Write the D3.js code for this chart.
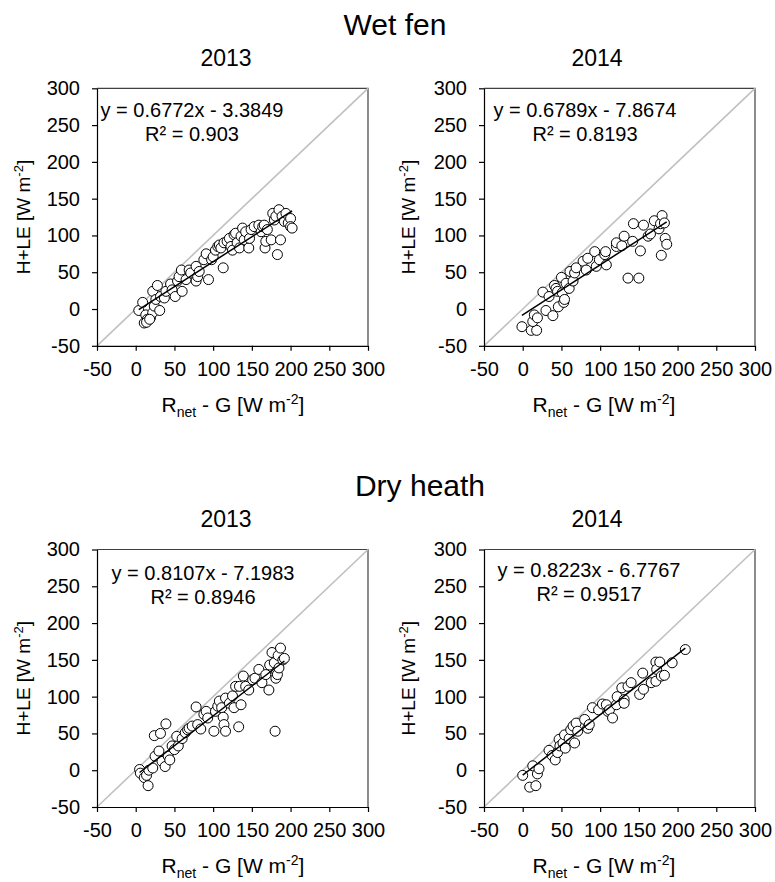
<!DOCTYPE html>
<html>
<head>
<meta charset="utf-8">
<script src="https://cdn.jsdelivr.net/npm/d3@7"></script>
<style>
  body { margin: 0; background: #fff; }
  text { font-family: "Liberation Sans", Arial, sans-serif; fill: #000; }
</style>
</head>
<body>
<svg id="chart" width="775" height="882"></svg>
<script>
// ---- data ----
const axisTicks = [-50, 0, 50, 100, 150, 200, 250, 300];

const siteNames = ["Wet fen", "Dry heath"];
const years = ["2013", "2014"];

// [Rnet - G, H + LE]
const wetFen2013 = [
  [4,-2],[9,9],[13,-8],[11,-19],[15,-14],[19,-12],[22,-5],[24,4],[22,24],[28,32],
  [31,-2],[26,13],[32,17],[37,15],[39,24],[45,34],[47,26],[51,17],[54,38],[56,44],
  [59,53],[60,24],[65,40],[69,53],[71,49],[78,58],[78,38],[80,44],[82,51],[88,67],
  [91,75],[94,40],[98,67],[100,71],[103,80],[106,85],[108,87],[110,83],[113,56],[114,90],
  [118,92],[121,96],[123,85],[125,80],[127,101],[129,103],[131,90],[134,83],[136,99],[138,110],
  [140,94],[142,105],[146,83],[147,96],[149,108],[153,112],[159,114],[162,105],[164,112],[166,114],
  [167,83],[168,92],[170,108],[175,94],[177,130],[179,121],[181,126],[183,74],[185,135],[187,94],
  [189,126],[192,119],[194,130],[197,117],[200,123],[200,112],[202,110],[14,-18],[18,-14]
];
const wetFen2014 = [
  [-1,-24],[11,-29],[18,-29],[13,-17],[15,-8],[19,-12],[26,23],[30,-2],[34,17],[39,-9],
  [41,32],[43,28],[45,24],[46,3],[50,43],[51,22],[53,9],[54,13],[56,35],[60,28],
  [61,51],[65,38],[67,49],[69,56],[78,65],[82,53],[84,69],[93,78],[95,58],[99,67],
  [106,74],[107,78],[108,60],[121,85],[121,90],[128,86],[131,99],[136,42],[142,92],[143,116],
  [150,42],[152,79],[156,114],[162,99],[165,102],[170,120],[176,109],[178,116],[179,73],[180,127],
  [183,117],[184,96],[186,88]
];
const dryHeath2013 = [
  [5,1],[6,-4],[11,-10],[14,-7],[16,-21],[17,0],[22,3],[24,47],[25,19],[30,26],
  [32,50],[34,12],[38,5],[39,63],[42,19],[44,14],[47,33],[50,28],[53,46],[55,33],
  [60,43],[64,51],[67,55],[69,57],[73,60],[78,86],[80,62],[84,56],[88,76],[91,80],
  [93,71],[101,53],[103,80],[106,87],[108,94],[111,85],[113,72],[114,62],[116,53],[116,98],
  [121,91],[125,101],[127,85],[129,114],[133,59],[134,114],[136,89],[139,128],[142,114],[146,109],
  [151,123],[154,125],[159,137],[163,119],[168,130],[172,109],[173,143],[176,160],[179,146],[180,53],
  [181,125],[182,134],[183,130],[184,156],[185,139],[187,166],[190,150],[192,152]
];
const dryHeath2014 = [
  [0,-7],[9,-23],[13,6],[17,-21],[19,-5],[21,2],[34,27],[38,20],[42,14],[45,24],
  [47,42],[48,33],[52,37],[54,48],[55,30],[60,43],[62,55],[65,60],[67,37],[69,64],
  [71,53],[80,69],[84,57],[86,62],[90,85],[98,82],[103,90],[108,89],[110,80],[112,82],
  [116,71],[121,89],[122,100],[128,112],[131,96],[131,91],[136,114],[140,119],[151,103],[155,132],
  [156,110],[166,119],[172,121],[172,147],[173,137],[177,147],[179,128],[183,129],[193,146],[210,164]
];

// fitted lines: slope, intercept, R²
const slopes = [0.6772, 0.6789, 0.8107, 0.8223];
const intercepts = [-3.3849, -7.8674, -7.1983, -6.7767];
const rSquared = ["0.903", "0.8193", "0.8946", "0.9517"];

// ---- layout ----
const plotW = 271, plotH = 257.5;
const panels = [
  { data: wetFen2013,   left: 97,  top: 88.3,  eqX: 95,  eqY: 29 },
  { data: wetFen2014,   left: 484, top: 88.3,  eqX: 101, eqY: 29 },
  { data: dryHeath2013, left: 97,  top: 549.5, eqX: 106, eqY: 30 },
  { data: dryHeath2014, left: 484, top: 549.5, eqX: 105, eqY: 27 }
];

const svg = d3.select("#chart");

const x = d3.scaleLinear().domain([-50, 300]).range([0, plotW]);
const y = d3.scaleLinear().domain([-50, 300]).range([plotH, 0]);

// site headers and year titles
siteNames.forEach((name, r) => {
  const off = r * 461.2;
  svg.append("text")
    .attr("x", r == 0 ? 395 : 420)
    .attr("y", 35 + off)
    .attr("text-anchor", "middle")
    .style("font-size", "30px")
    .text(name);
  years.forEach((yr, c) => {
    svg.append("text")
      .attr("x", c == 0 ? 226 : 597)
      .attr("y", 66 + off)
      .attr("text-anchor", "middle")
      .style("font-size", "23px")
      .text(yr);
  });
});

panels.forEach((p, i) => {
  const g = svg.append("g").attr("transform", `translate(${p.left}, ${p.top})`);

  // frame top + right
  g.append("path")
    .attr("d", `M0,0H${plotW}V${plotH}`)
    .attr("fill", "none")
    .attr("stroke", "#404040")
    .attr("stroke-width", 1.2);

  // 1:1 line
  g.append("line")
    .attr("x1", x(-50)).attr("y1", y(-50))
    .attr("x2", x(300)).attr("y2", y(300))
    .attr("stroke", "#c0c0c0")
    .attr("stroke-width", 1.6);

  // axes (plain hyphen for negatives, like the original)
  const fmt = d => String(d);
  const xAxis = d3.axisBottom(x).tickValues(axisTicks).tickFormat(fmt).tickSize(5).tickSizeOuter(0).tickPadding(11);
  const yAxis = d3.axisLeft(y).tickValues(axisTicks).tickFormat(fmt).tickSize(5).tickSizeOuter(0).tickPadding(12);

  g.append("g")
    .attr("class", "x axis")
    .attr("transform", `translate(0, ${plotH})`)
    .call(xAxis);
  g.append("g")
    .attr("class", "y axis")
    .call(yAxis);

  g.selectAll(".axis path, .axis line").attr("stroke", "#000").attr("stroke-width", 1.2);
  g.selectAll(".axis text")
    .style("font-size", "20px")
    .attr("font-family", null);

  // points
  g.append("g")
    .selectAll("circle")
    .data(p.data).enter()
    .append("circle")
    .attr("cx", d => x(d[0]))
    .attr("cy", d => y(d[1]))
    .attr("r", 5)
    .attr("fill", "#fff")
    .attr("stroke", "#000")
    .attr("stroke-width", 1);

  // regression line over the data range
  const ext = d3.extent(p.data, d => d[0]);
  const fit = ext.map(v => [v, slopes[i] * v + intercepts[i]]);
  g.append("path")
    .attr("d", d3.line().x(d => x(d[0])).y(d => y(d[1]))(fit))
    .attr("fill", "none")
    .attr("stroke", "#000")
    .attr("stroke-width", 1.5);

  // equation
  const sign = intercepts[i] < 0 ? "-" : "+";
  g.append("text")
    .attr("x", p.eqX).attr("y", p.eqY)
    .attr("text-anchor", "middle")
    .style("font-size", "20px")
    .text(`y = ${slopes[i].toFixed(4)}x ${sign} ${Math.abs(intercepts[i]).toFixed(4)}`);
  g.append("text")
    .attr("x", p.eqX).attr("y", p.eqY + 24)
    .attr("text-anchor", "middle")
    .style("font-size", "20px")
    .text(`R² = ${rSquared[i]}`);

  // axis titles
  const yt = g.append("text")
    .attr("transform", `translate(${i % 2 == 0 ? -67 : -69}, ${plotH / 2}) rotate(-90)`)
    .attr("text-anchor", "middle")
    .style("font-size", "19px");
  yt.append("tspan").text("H+LE [W m");
  yt.append("tspan").attr("dy", -7).style("font-size", "13px").text("-2");
  yt.append("tspan").attr("dy", 7).text("]");

  const xt = g.append("text")
    .attr("x", i % 2 == 0 ? 136 : 120)
    .attr("y", plotH + 66)
    .attr("text-anchor", "middle")
    .style("font-size", "21px");
  xt.append("tspan").text("R");
  xt.append("tspan").attr("dy", 5).style("font-size", "14px").text("net");
  xt.append("tspan").attr("dy", -5).text(" - G [W m");
  xt.append("tspan").attr("dy", -8).style("font-size", "14px").text("-2");
  xt.append("tspan").attr("dy", 8).text("]");
});
</script>
</body>
</html>
